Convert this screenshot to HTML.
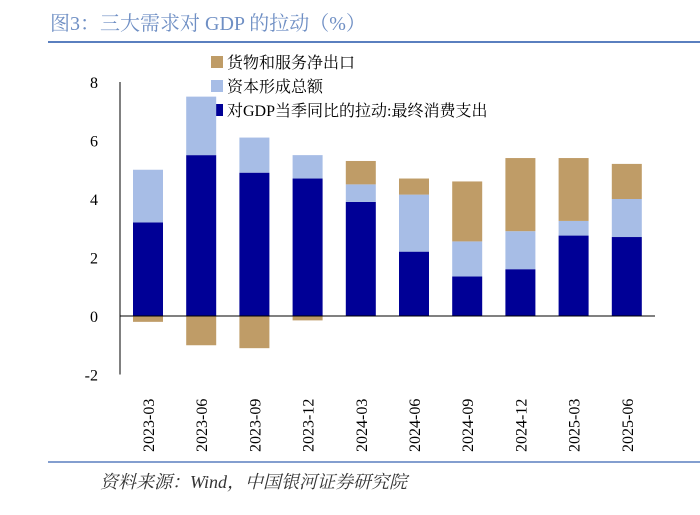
<!DOCTYPE html>
<html><head><meta charset="utf-8"><style>
body{margin:0;background:#fff;}
svg text{font-family:"Liberation Serif","Noto Serif CJK SC",serif;}
</style></head><body>
<svg id="c" width="700" height="510" xmlns="http://www.w3.org/2000/svg">
<text x="50" y="30" font-size="20" fill="#6f8fc4">图3：三大需求对 GDP 的拉动（%）</text>
<line x1="48" y1="42" x2="700" y2="42" stroke="#5a7fbf" stroke-width="2"/>
<g>
<rect x="211" y="56" width="12" height="12" fill="#bf9c67"/>
<text x="227" y="68" font-size="16" fill="#000">货物和服务净出口</text>
<rect x="211" y="80" width="12" height="12" fill="#a7bde6"/>
<text x="227" y="92" font-size="16" fill="#000">资本形成总额</text>
<rect x="211" y="104" width="12" height="12" fill="#000096"/>
<text x="227" y="116" font-size="16" fill="#000">对GDP当季同比的拉动:最终消费支出</text>
</g>
<line x1="48" y1="462" x2="700" y2="462" stroke="#5a7fbf" stroke-width="1.5"/>
<text x="100" y="488" font-size="18" font-style="italic" fill="#333">资料来源：Wind，中国银河证券研究院</text>
</svg>
<script>
const categories=["2023-03","2023-06","2023-09","2023-12","2024-03","2024-06","2024-09","2024-12","2025-03","2025-06"];
const consumption=[3.2,5.5,4.9,4.7,3.9,2.2,1.35,1.6,2.75,2.7];
const investment=[1.8,2.0,1.2,0.8,0.6,1.95,1.2,1.3,0.5,1.3];
const netExports=[-0.2,-1.0,-1.1,-0.15,0.8,0.55,2.05,2.5,2.15,1.2];
const yTicks=[-2,0,2,4,6,8];
const NS="http://www.w3.org/2000/svg";
const svg=document.getElementById('c');
const y=v=>316-v*29.25;
const xc=i=>148+i*53.2;
const bw=30;
function mk(t,a){const e=document.createElementNS(NS,t);for(const k in a)e.setAttribute(k,a[k]);svg.appendChild(e);return e;}
const yax=mk('line',{x1:120,y1:y(8),x2:120,y2:y(-2),stroke:'#000','stroke-width':1});


yTicks.forEach(t=>{const tx=mk('text',{x:98,y:y(t)+6,'font-size':16,'text-anchor':'end',fill:'#000'});tx.textContent=t;

});
categories.forEach((c,i)=>{
 const x=xc(i)-bw/2;
 const cons=consumption[i],inv=investment[i],ne=netExports[i];
 const r1=mk('rect',{x:x,y:y(cons),width:bw,height:y(0)-y(cons),fill:'#000096'});
 
 
 const r2=mk('rect',{x:x,y:y(cons+inv),width:bw,height:y(cons)-y(cons+inv),fill:'#a7bde6'});
 
 
 let r3;
 if(ne>=0){const b=cons+inv;r3=mk('rect',{x:x,y:y(b+ne),width:bw,height:y(b)-y(b+ne),fill:'#bf9c67'});}
 else{r3=mk('rect',{x:x,y:y(0),width:bw,height:y(ne)-y(0),fill:'#bf9c67'});}
 
 
 const tx=mk('text',{transform:`translate(${xc(i)+6},452) rotate(-90)`,'font-size':16,fill:'#000'});
 tx.textContent=c;
 
 
});
const xax=mk('line',{x1:120,y1:y(0),x2:655,y2:y(0),stroke:'#000','stroke-width':1});


</script>
</body></html>
